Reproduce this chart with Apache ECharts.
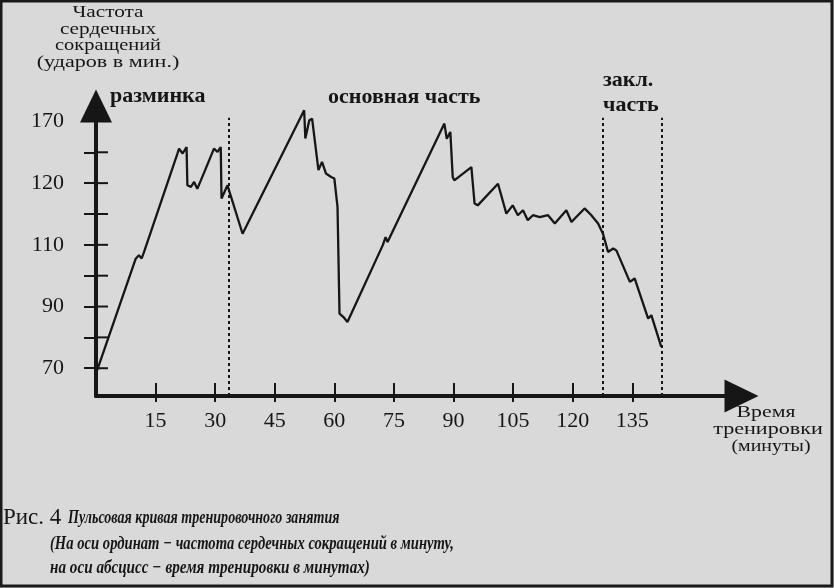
<!DOCTYPE html>
<html>
<head>
<meta charset="utf-8">
<script src="https://cdn.jsdelivr.net/npm/echarts@6/dist/echarts.min.js"></script>
<style>
html,body{margin:0;padding:0;background:#d9d9d9;}
#chart{width:834px;height:588px;}
</style>
</head>
<body>
<div id="chart"></div>
<script>
// Time of training (minutes)
var minutes = [0.3, 10.0, 10.8, 11.5, 12.1, 20.5, 20.9, 21.8, 22.8, 23.0, 23.9, 24.7, 25.5, 26.4,
  29.7, 30.6, 31.4, 31.6, 33.1, 33.5, 36.9, 52.4, 52.7, 53.7, 54.4, 56.0, 56.9, 57.9, 59.2, 60.0,
  60.8, 61.3, 62.3, 62.8, 63.3, 72.2, 72.9, 73.4, 87.7, 88.3, 89.2, 89.8, 90.2, 94.5, 95.3, 96.1,
  101.2, 103.3, 104.9, 106.2, 107.5, 108.7, 110.0, 111.7, 113.8, 115.5, 118.4, 119.7, 120.9, 123.0,
  124.7, 126.4, 127.6, 128.9, 130.2, 131.0, 134.4, 135.6, 139.0, 139.8, 142.3];
// Heart rate (in the axis' evenly spaced tick units)
var heartRate = [69.4, 105.5, 106.6, 105.6, 107.7, 139.6, 141.2, 139.6, 141.7, 129.3, 128.8, 130.4, 128.2, 130.9,
  141.2, 140.1, 141.7, 125.0, 129.3, 128.7, 113.6, 153.6, 144.5, 150.4, 150.9, 134.2, 136.9, 133.1, 132.0, 131.5,
  122.3, 87.7, 86.6, 87.2, 85.0, 109.9, 112.5, 110.9, 149.3, 144.4, 146.6, 132.0, 130.9, 135.2, 123.4, 122.8,
  129.8, 120.1, 122.8, 119.6, 121.2, 118.0, 119.6, 119.0, 119.6, 116.9, 121.2, 117.4, 119.0, 121.8,
  119.6, 116.9, 113.7, 107.7, 108.8, 108.2, 98.0, 99.1, 86.1, 87.2, 76.9];
// x axis ticks / labels
var xTicks = [15, 30, 45, 60, 75, 90, 105, 120, 135];
// y axis ticks and printed labels (as printed in the original figure)
var yTicks = [70, 80, 90, 100, 110, 120, 130, 140];
var yLabelValues = [70, 90, 110, 130, 150];
var yLabelTexts = ['70', '90', '110', '120', '170'];
// phase boundaries (minutes) and their top
var phaseBounds = [33.5, 127.6, 142.4];
var phaseTop = 151.2;

var seriesData = minutes.map(function (m, i) { return [m, heartRate[i]]; });
var yLabelMap = {};
yLabelValues.forEach(function (v, i) { yLabelMap[v] = yLabelTexts[i]; });

var XMIN = 0, XMAX = 162.5, YMIN = 61, YMAX = 155;
var gridLeft = 96, gridRight = 92.5, gridTop = 106, gridBottom = 192;
var gridH = 588 - gridTop - gridBottom;
var ink = '#161616';
var serif = '"Liberation Serif", "DejaVu Serif", serif';

function txt(x, y, text, font, align, sx) {
  return {type: 'text', x: x, y: y, scaleX: sx || 1,
    style: {text: text, font: font, fill: ink, textAlign: align || 'left', textVerticalAlign: 'middle'}};
}

var chart = echarts.init(document.getElementById('chart'), null, {renderer: 'canvas'});
chart.setOption({
  backgroundColor: '#d9d9d9',
  animation: false,
  grid: {left: gridLeft, right: gridRight, top: gridTop, bottom: gridBottom},
  xAxis: [{
    type: 'value', min: XMIN, max: XMAX, position: 'bottom',
    axisLine: {show: true, lineStyle: {color: ink, width: 4}, symbol: ['none', 'triangle'], symbolSize: [33, 34]},
    axisTick: {show: true, customValues: xTicks, inside: false, length: 6, lineStyle: {color: ink, width: 2}},
    axisLabel: {show: true, customValues: xTicks, margin: 14, color: ink, fontFamily: serif, fontSize: 22},
    splitLine: {show: false}
  }, {
    type: 'value', min: XMIN, max: XMAX, position: 'top', offset: -gridH,
    axisLine: {show: false},
    axisTick: {show: true, customValues: xTicks, inside: false, length: 13, lineStyle: {color: ink, width: 2}},
    axisLabel: {show: false},
    splitLine: {show: false}
  }],
  yAxis: [{
    type: 'value', min: YMIN, max: YMAX, position: 'left',
    axisLine: {show: true, lineStyle: {color: ink, width: 4}, symbol: ['none', 'triangle'], symbolSize: [32, 33]},
    axisTick: {show: true, customValues: yTicks, inside: false, length: 12, lineStyle: {color: ink, width: 2}},
    axisLabel: {show: true, customValues: yLabelValues, margin: 32, color: ink, fontFamily: serif, fontSize: 22,
      padding: [0, 0, 14, 0],
      formatter: function (v) { return yLabelMap[v] || ''; }},
    splitLine: {show: false}
  }],
  series: [{
    type: 'line', xAxisIndex: 0, yAxisIndex: 0,
    data: seriesData, showSymbol: false, smooth: false,
    lineStyle: {color: ink, width: 2.3},
    markLine: {
      silent: true, symbol: ['none', 'none'],
      label: {show: false},
      lineStyle: {color: ink, width: 2, type: [3, 3]},
      data: phaseBounds.map(function (b) { return [{coord: [b, YMIN]}, {coord: [b, phaseTop]}]; })
    }
  }, {
    // inner half of the y-axis tick marks (ticks cross the axis line)
    type: 'custom', xAxisIndex: 0, yAxisIndex: 0, silent: true,
    data: yTicks.map(function (v) { return [XMIN, v]; }),
    renderItem: function (params, api) {
      var p = api.coord([api.value(0), api.value(1)]);
      return {type: 'line', shape: {x1: p[0], y1: p[1], x2: p[0] + 12, y2: p[1]},
        style: {stroke: ink, lineWidth: 2}};
    }
  }],
  graphic: [
    {type: 'rect', shape: {x: 1, y: 1, width: 831, height: 585}, style: {fill: 'none', stroke: '#1a1a1a', lineWidth: 3}, z: 100},
    txt(108, 13, 'Частота', '17px ' + serif, 'center', 1.25),
    txt(108, 30, 'сердечных', '17px ' + serif, 'center', 1.25),
    txt(108, 46, 'сокращений', '17px ' + serif, 'center', 1.2),
    txt(108, 63, '(ударов в мин.)', '17px ' + serif, 'center', 1.3),
    txt(110, 96, 'разминка', 'bold 22px ' + serif),
    txt(328, 97, 'основная часть', 'bold 22px ' + serif),
    txt(603, 80, 'закл.', 'bold 22px ' + serif),
    txt(603, 105, 'часть', 'bold 22px ' + serif),
    txt(766, 413, 'Время', '17px ' + serif, 'center', 1.28),
    txt(768, 430, 'тренировки', '17px ' + serif, 'center', 1.3),
    txt(771, 447, '(минуты)', '17px ' + serif, 'center', 1.17),
    txt(3, 518, 'Рис. 4', '23px ' + serif),
    txt(68, 518, 'Пульсовая кривая тренировочного занятия', 'italic bold 19px ' + serif, 'left', 0.74),
    txt(50, 544, '(На оси ординат − частота сердечных сокращений в минуту,', 'italic bold 19px ' + serif, 'left', 0.77),
    txt(50, 568, 'на оси абсцисс − время тренировки в минутах)', 'italic bold 19px ' + serif, 'left', 0.80)
  ]
});
</script>
</body>
</html>
